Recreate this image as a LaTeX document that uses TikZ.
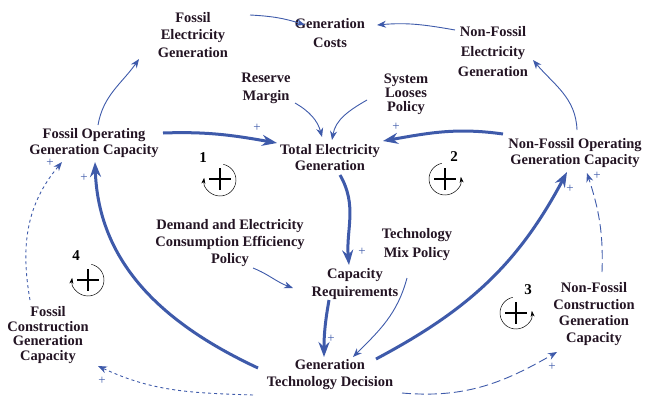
\documentclass[tikz,border=0pt]{standalone}
\usepackage{fontspec}
\setmainfont{Liberation Serif}
\usetikzlibrary{arrows.meta}
\definecolor{cb}{RGB}{62,90,170}
\definecolor{txt}{RGB}{35,20,35}
\begin{document}
\begin{tikzpicture}[x=1pt,y=1pt,
  var/.style={align=center, text=txt, inner sep=1pt, font=\fontsize{14.5}{#1}\selectfont\bfseries},
  var/.default=16,
  lk/.style={draw=cb, line width=0.9pt, -{Stealth[length=9pt,width=7pt]}},
  lkb/.style={draw=cb, line width=3pt, -{Stealth[length=15pt,width=11pt]}},
  lkd/.style={lk, dash pattern=on 3pt off 3pt},
  lkl/.style={lk, dash pattern=on 9pt off 4pt},
  pol/.style={text=cb, font=\fontsize{13}{13}\selectfont, inner sep=0pt},
  loopnum/.style={font=\fontsize{15}{15}\selectfont\bfseries, inner sep=0pt},
  looparc/.style={draw=black, line width=0.5pt, -{Stealth[length=6pt,width=4pt]}},
  loopplus/.style={draw=black, line width=1.6pt}
  ]
\useasboundingbox (0,0) rectangle (650,-407);

% variables
\node[var=17.5] (fec) at (193,-35) {Fossil\\Electricity\\Generation};
\node[var=19] (gc) at (330,-33) {Generation\\Costs};
\node[var=20] (nfec) at (493,-52) {Non-Fossil\\Electricity\\Generation};
\node[var=18] (rm) at (266,-88) {Reserve\\Margin};
\node[var=14] (slp) at (406,-94) {System\\Looses\\Policy};
\node[var] (fog) at (94,-143) {Fossil Operating\\Generation Capacity};
\node[var] (teg) at (330,-158) {Total Electricity\\Generation};
\node[var] (nfog) at (575,-153) {Non-Fossil Operating\\Generation Capacity};
\node[var=17] (dp) at (230,-243) {Demand and Electricity\\Consumption Efficiency\\Policy};
\node[var=19] (tmp) at (417,-245) {Technology\\Mix Policy};
\node[var=18] (cr) at (355,-284) {Capacity\\Requirements};
\node[var=14.5] (fcg) at (48,-335) {Fossil\\Construction\\Generation\\Capacity};
\node[var=16.7] (nfcg) at (594,-314) {Non-Fossil\\Construction\\Generation\\Capacity};
\node[var=17] (gtd) at (330,-375) {Generation\\Technology Decision};

% thin links
\draw[lk] ([shift={(57,20)}]fec.center) to[out=-3,in=162] ([shift={(-25,8)}]gc.center);
\draw[lk] ([shift={(-38,22)}]nfec.center) to[out=170,in=5] ([shift={(47,8)}]gc.center);
\draw[lk] ([shift={(4,18)}]fog.center) to[out=80,in=235] ([shift={(-54,-24)}]fec.center);
\draw[lk] ([shift={(2,23)}]nfog.center) to[out=92,in=-50] ([shift={(40,-8)}]nfec.center);
\draw[lk] ([shift={(29,-15)}]rm.center) to[out=-30,in=105] ([shift={(-8,21)}]teg.center);
\draw[lk] ([shift={(-39,-6)}]slp.center) to[out=210,in=80] ([shift={(2,18)}]teg.center);
\draw[lk] ([shift={(23,-25)}]dp.center) to[out=-22,in=160] ([shift={(-62,-4)}]cr.center);
\draw[lk] ([shift={(-10,-33)}]tmp.center) to[out=-105,in=45] ([shift={(23,18)}]gtd.center);

% thick links
\draw[lkb] ([shift={(69,10)}]fog.center) to[out=2,in=170] ([shift={(-53,15)}]teg.center);
\draw[lkb] ([shift={(-72,19)}]nfog.center) to[out=172,in=10] ([shift={(53,17)}]teg.center);
\draw[lkb] ([shift={(10,-17)}]teg.center) to[out=-60,in=95] ([shift={(-6,19)}]cr.center);
\draw[lkb] ([shift={(-26,-16)}]cr.center) to[out=-100,in=90] ([shift={(-6,18)}]gtd.center);
\draw[lkb] ([shift={(-72,7)}]gtd.center) to[out=155,in=-88] ([shift={(1,-19)}]fog.center);
\draw[lkb] ([shift={(46,16)}]gtd.center) to[out=28,in=-118] ([shift={(-8,-19)}]nfog.center);

% dashed links
\draw[lkd] ([shift={(-77,-20)}]gtd.center) to[out=178,in=-25] ([shift={(50,-31)}]fcg.center);
\draw[lkd] ([shift={(-18,35)}]fcg.center) to[out=100,in=230] ([shift={(-32,-19)}]fog.center);
\draw[lkl] ([shift={(72,-18)}]gtd.center) to[out=-5,in=210] ([shift={(-37,-38)}]nfcg.center);
\draw[lkl] ([shift={(8,42)}]nfcg.center) to[out=88,in=-72] ([shift={(12,-20)}]nfog.center);

% polarities
\node[pol] (p1) at (257,-128) {+};
\node[pol] (p2) at (396,-127) {+};
\node[pol] (p3) at (362,-252) {+};
\node[pol] (p4) at (331,-339) {+};
\node[pol] (p5) at (84,-178) {+};
\node[pol] (p6) at (570,-189) {+};
\node[pol] (p7) at (102,-381) {+};
\node[pol] (p8) at (50,-163) {+};
\node[pol] (p9) at (552,-367) {+};
\node[pol] (p10) at (597,-176) {+};

% loops
\node[loopnum] (l1) at (203,-158) {1};
\draw[looparc] (220,-180) ++(78:16) arc[start angle=78,end angle=-188,radius=16];
\draw[loopplus] (209,-179) -- (231,-179) (220,-168) -- (220,-190);

\node[loopnum] (l2) at (454,-157) {2};
\draw[looparc] (445,-179) ++(102:16) arc[start angle=102,end angle=368,radius=16];
\draw[loopplus] (434,-179) -- (456,-179) (445,-168) -- (445,-190);

\node[loopnum] (l3) at (528,-290) {3};
\draw[looparc] (516,-313) ++(102:16) arc[start angle=102,end angle=368,radius=16];
\draw[loopplus] (505,-313) -- (527,-313) (516,-302) -- (516,-324);

\node[loopnum] (l4) at (76,-256) {4};
\draw[looparc] (88,-280) ++(78:16) arc[start angle=78,end angle=-188,radius=16];
\draw[loopplus] (77,-280) -- (99,-280) (88,-269) -- (88,-291);
\end{tikzpicture}
\end{document}
